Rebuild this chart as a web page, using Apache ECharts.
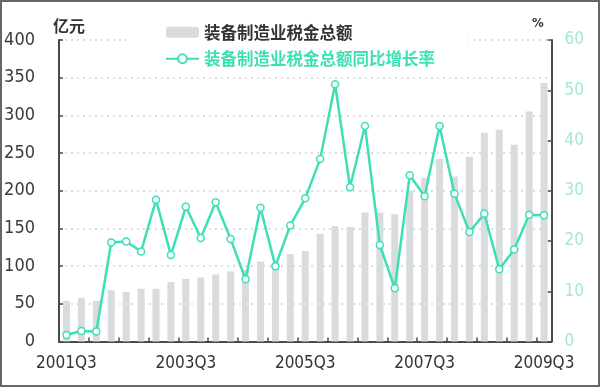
<!DOCTYPE html>
<html><head><meta charset="utf-8">
<script src="https://cdn.jsdelivr.net/npm/echarts@6/dist/echarts.min.js"></script>
<style>html,body{margin:0;padding:0;background:#fff}#c{width:600px;height:387px;}</style>
</head><body><div id="c"></div>
<script>
const categories = ['2001Q3','2001Q4','2002Q1','2002Q2','2002Q3','2002Q4','2003Q1','2003Q2',
  '2003Q3','2003Q4','2004Q1','2004Q2','2004Q3','2004Q4','2005Q1','2005Q2',
  '2005Q3','2005Q4','2006Q1','2006Q2','2006Q3','2006Q4','2007Q1','2007Q2',
  '2007Q3','2007Q4','2008Q1','2008Q2','2008Q3','2008Q4','2009Q1','2009Q2','2009Q3'];
const taxTotal = [54,58,54,68,66,70,70,79,83,85,89,93,95,106,104,116,120,143,153,152,171,171,169,200,217,242,219,245,277,281,261,305,343];
const growthRate = [1.3,2.1,2.0,19.7,19.9,17.9,28.2,17.2,26.8,20.6,27.7,20.4,12.4,26.6,15.0,23.1,28.5,36.3,51.2,30.7,42.9,19.2,10.6,33.1,28.9,42.9,29.4,21.8,25.4,14.4,18.3,25.2,25.1];
const seriesNames = ['装备制造业税金总额','装备制造业税金总额同比增长率'];
const leftUnit = '亿元';
const rightUnit = '%';

const numFont = '"Liberation Sans Narrow","DejaVu Sans Condensed","Liberation Sans",Arial,sans-serif';
const cjkFont = '"Noto Sans CJK SC",sans-serif';
const lineColor = '#3edfb6';
const axisColor = '#4a4a4a';

const chart = echarts.init(document.getElementById('c'), null, {renderer:'canvas'});
chart.setOption({
  animation:false,
  backgroundColor:'#fff',
  grid:{left:59, right:48.5, top:40, bottom:45.5, containLabel:false},
  legend:{
    orient:'vertical', left:128, top:20, padding:[4,33,4,37], backgroundColor:'#fff',
    itemWidth:33, itemHeight:11, itemGap:10,
    textStyle:{fontSize:16.5, fontWeight:'bold', fontFamily:cjkFont},
    data:[
      {name:seriesNames[0], textStyle:{color:'#333'}},
      {name:seriesNames[1], textStyle:{color:lineColor}}
    ]
  },
  xAxis:{
    type:'category', data:categories, boundaryGap:true,
    axisLine:{lineStyle:{color:axisColor, width:2}},
    axisTick:{show:true, inside:true, interval:1, length:4, lineStyle:{color:axisColor, width:1.5}},
    axisLabel:{interval:7, margin:14, fontSize:17, color:'#333', fontFamily:numFont}
  },
  yAxis:[
    {
      type:'value', min:0, max:400, interval:50, position:'left',
      axisLine:{show:true, lineStyle:{color:axisColor, width:2}},
      axisTick:{show:true, inside:true, length:4, lineStyle:{color:axisColor, width:1.5}},
      axisLabel:{margin:24, fontSize:18, color:'#3a3a3a', fontFamily:numFont},
      splitLine:{show:true, lineStyle:{type:[2,4], color:'#cfd3d3', width:1.5}}
    },
    {
      type:'value', min:0, max:60, interval:10, position:'right',
      axisLine:{show:true, lineStyle:{color:axisColor, width:2}},
      axisTick:{show:true, inside:true, length:4, lineStyle:{color:axisColor, width:1.5}},
      axisLabel:{margin:13, fontSize:17, color:'#a3e8d6', fontFamily:numFont},
      splitLine:{show:false}
    }
  ],
  graphic:[
    {type:'text', left:53, top:18, style:{text:leftUnit, fontSize:16, fontWeight:'bold', fill:'#333', fontFamily:cjkFont}},
    {type:'text', left:532, top:17, style:{text:rightUnit, fontSize:13, fontWeight:'bold', fill:'#333', fontFamily:numFont}},
    {type:'rect', shape:{x:1, y:1, width:598, height:385}, style:{fill:'none', stroke:'#666', lineWidth:2}, z:100}
  ],
  series:[
    {name:seriesNames[0], type:'bar', yAxisIndex:0, data:taxTotal, barWidth:7,
     itemStyle:{color:'#d8dcdc'}},
    {name:seriesNames[1], type:'line', yAxisIndex:1, data:growthRate,
     symbol:'circle', symbolSize:7, showAllSymbol:true,
     lineStyle:{color:lineColor, width:2.5},
     itemStyle:{color:'#fff', borderColor:lineColor, borderWidth:1.5}}
  ]
});
</script></body></html>
